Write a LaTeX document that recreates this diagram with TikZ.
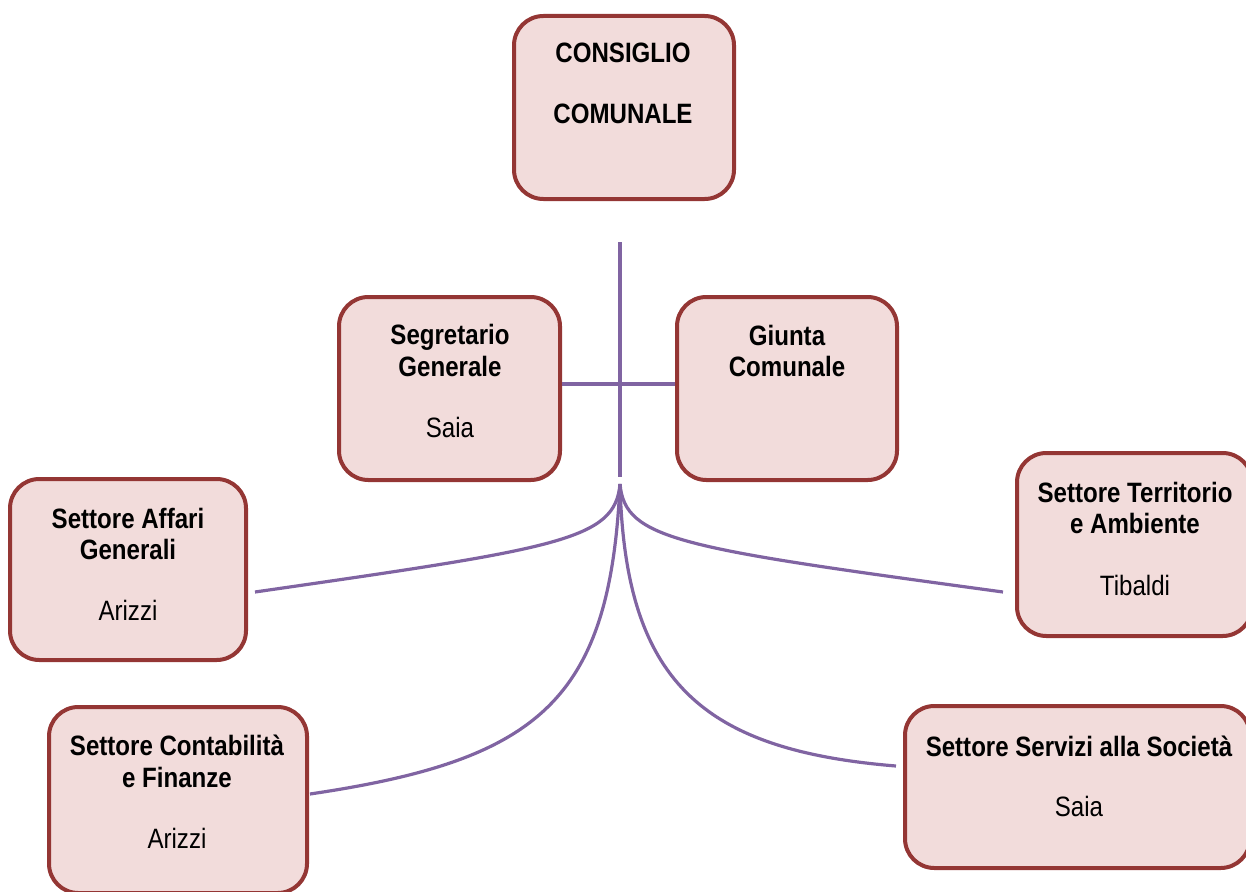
\documentclass[tikz,border=0pt]{standalone}
\usepackage{fontspec}
\setmainfont{Liberation Sans}[FakeStretch=0.86]
\definecolor{boxline}{HTML}{943634}
\definecolor{boxfill}{HTML}{F2DCDB}
\definecolor{conn}{HTML}{8064A2}
\begin{document}
\begin{tikzpicture}[x=0.75pt,y=-0.75pt,
  orgbox/.style={draw=boxline,fill=boxfill,line width=3pt,rounded corners=22pt,inner sep=0pt},
  ttl/.style={anchor=base,inner sep=0pt,font=\fontsize{21}{25}\selectfont\bfseries},
  nm/.style={anchor=base,inner sep=0pt,font=\fontsize{21}{25}\selectfont},
  link/.style={draw=conn,line width=2.4pt}]
\useasboundingbox (0,0) rectangle (1246,892);
% boxes
\node[orgbox,minimum width=165pt,minimum height=137.25pt] (cc) at (624,107.5) {};
\node[orgbox,minimum width=165.75pt,minimum height=137.25pt] (seg) at (449.5,388.5) {};
\node[orgbox,minimum width=165pt,minimum height=137.25pt] (giu) at (787,388.5) {};
\node[orgbox,minimum width=177pt,minimum height=135.75pt] (aff) at (128,569.5) {};
\node[orgbox,minimum width=176.25pt,minimum height=137.25pt] (ter) at (1134.5,544.5) {};
\node[orgbox,minimum width=193.5pt,minimum height=139.5pt] (con) at (178,800) {};
\node[orgbox,minimum width=258.75pt,minimum height=121.5pt] (ser) at (1077.5,787) {};
% texts
\node[ttl] (cc1) at (623,63) {CONSIGLIO};
\node[ttl] (cc2) at (623,123) {COMUNALE};
\node[ttl] (seg1) at (450,344) {Segretario};
\node[ttl] (seg2) at (450,376) {Generale};
\node[nm] (seg3) at (450,437) {Saia};
\node[ttl] (giu1) at (787,345) {Giunta};
\node[ttl] (giu2) at (787,376) {Comunale};
\node[ttl] (aff1) at (128,528) {Settore Affari};
\node[ttl] (aff2) at (128,559) {Generali};
\node[nm] (aff3) at (128,620) {Arizzi};
\node[ttl] (ter1) at (1135,502) {Settore Territorio};
\node[ttl] (ter2) at (1135,533) {e Ambiente};
\node[nm] (ter3) at (1135,595) {Tibaldi};
\node[ttl] (con1) at (177,755) {Settore Contabilità};
\node[ttl] (con2) at (177,787) {e Finanze};
\node[nm] (con3) at (177,848) {Arizzi};
\node[ttl] (ser1) at (1079,756) {Settore Servizi alla Società};
\node[nm] (ser2) at (1079,816) {Saia};
% connectors
\coordinate (top) at (620,242);
\coordinate (hub) at (620,477);
\coordinate (fork) at (620,484);
\coordinate (affE) at (255,592);
\coordinate (terE) at (1003,592);
\coordinate (conE) at (310,794);
\coordinate (serE) at (896,766);
\draw[link] (top) -- (hub);
\draw[link] ([yshift=3.4pt]seg.east) -- ([yshift=3.4pt]giu.west);
\draw[link] (fork) .. controls (615,540) and (560,548) .. (affE);
\draw[link] (fork) .. controls (625,540) and (680,548) .. (terE);
\draw[link] (fork) .. controls (610,700) and (540,760) .. (conE);
\draw[link] (fork) .. controls (625,680) and (700,750) .. (serE);
\end{tikzpicture}
\end{document}
